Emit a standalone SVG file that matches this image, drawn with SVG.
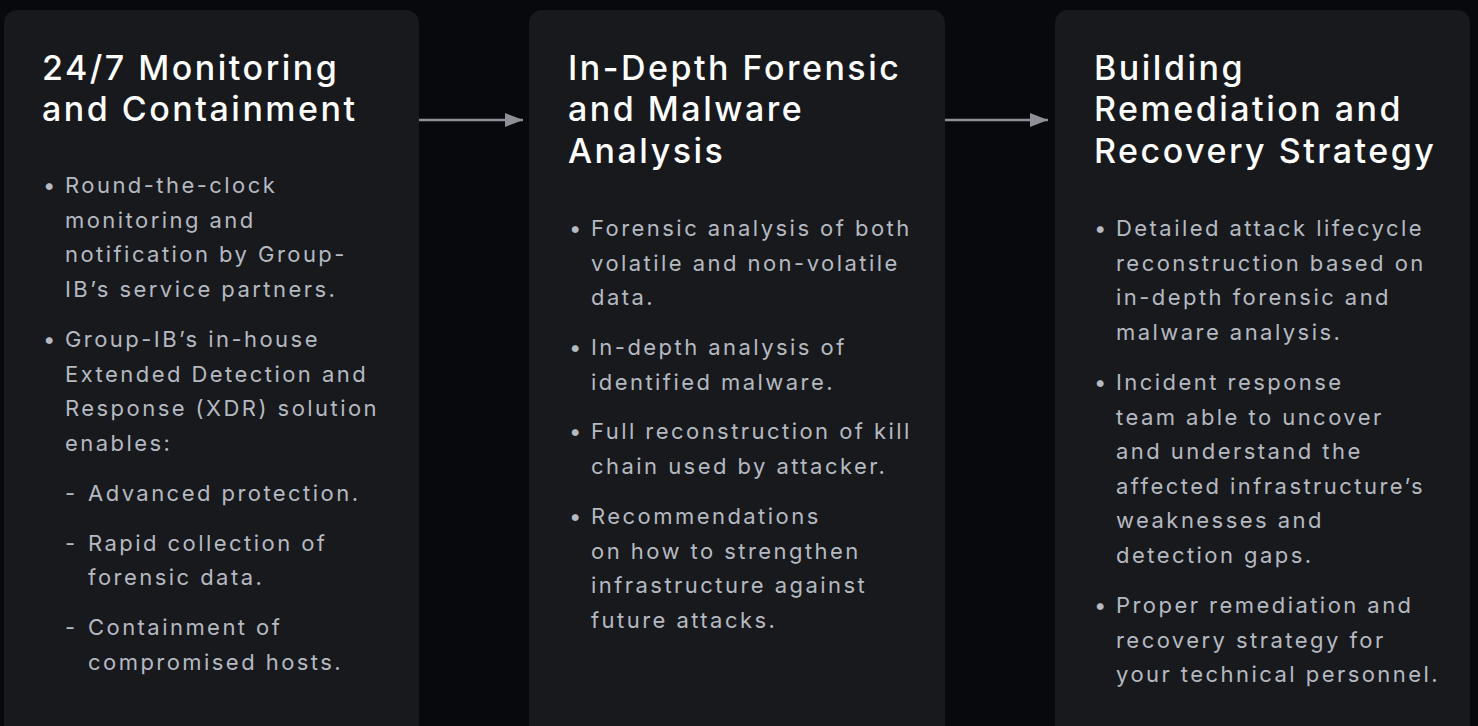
<svg xmlns="http://www.w3.org/2000/svg" width="1478" height="726" viewBox="0 0 1478 726">
<defs>
<style>
.card{fill:#18191d}
.title{font-family:Inter,"Liberation Sans",sans-serif;font-size:34px;font-weight:500;fill:#ffffff;letter-spacing:2.5px}
.body{font-family:Inter,"Liberation Sans",sans-serif;font-size:22px;font-weight:400;fill:#b5b9c1;letter-spacing:2.45px}
.conn{stroke:#8d9096;stroke-width:2.5;fill:none}
</style>
<marker id="ah" markerWidth="18" markerHeight="14" refX="18" refY="7" orient="auto" markerUnits="userSpaceOnUse">
<path d="M0,0 L18,7 L0,14 Z" fill="#8d9096"/>
</marker>
</defs>
<rect width="1478" height="726" fill="#08090c"/>
<g id="node1">
<rect class="card" x="4" y="10" width="415" height="740" rx="13"/>
<text class="title"><tspan x="42" y="80">24/7 Monitoring</tspan><tspan x="42" y="121">and Containment</tspan></text>
<text class="body">
<tspan x="43" y="193">•</tspan><tspan x="65" y="193">Round-the-clock</tspan>
<tspan x="65" y="228">monitoring and</tspan>
<tspan x="65" y="262">notification by Group-</tspan>
<tspan x="65" y="297">IB’s service partners.</tspan>
<tspan x="43" y="347">•</tspan><tspan x="65" y="347">Group-IB’s in-house</tspan>
<tspan x="65" y="382">Extended Detection and</tspan>
<tspan x="65" y="416">Response (XDR) solution</tspan>
<tspan x="65" y="451">enables:</tspan>
<tspan x="65" y="501">-</tspan><tspan x="88" y="501">Advanced protection.</tspan>
<tspan x="65" y="551">-</tspan><tspan x="88" y="551">Rapid collection of</tspan>
<tspan x="88" y="585">forensic data.</tspan>
<tspan x="65" y="635">-</tspan><tspan x="88" y="635">Containment of</tspan>
<tspan x="88" y="670">compromised hosts.</tspan>
</text>
</g>
<g id="node2">
<rect class="card" x="529" y="10" width="416" height="740" rx="13"/>
<text class="title"><tspan x="568" y="80">In-Depth Forensic</tspan><tspan x="568" y="121">and Malware</tspan><tspan x="568" y="163">Analysis</tspan></text>
<text class="body">
<tspan x="569" y="236">•</tspan><tspan x="591" y="236">Forensic analysis of both</tspan>
<tspan x="591" y="271">volatile and non-volatile</tspan>
<tspan x="591" y="305">data.</tspan>
<tspan x="569" y="355">•</tspan><tspan x="591" y="355">In-depth analysis of</tspan>
<tspan x="591" y="390">identified malware.</tspan>
<tspan x="569" y="439">•</tspan><tspan x="591" y="439">Full reconstruction of kill</tspan>
<tspan x="591" y="474">chain used by attacker.</tspan>
<tspan x="569" y="524">•</tspan><tspan x="591" y="524">Recommendations</tspan>
<tspan x="591" y="559">on how to strengthen</tspan>
<tspan x="591" y="593">infrastructure against</tspan>
<tspan x="591" y="628">future attacks.</tspan>
</text>
</g>
<g id="node3">
<rect class="card" x="1055" y="10" width="415" height="740" rx="13"/>
<text class="title"><tspan x="1094" y="80">Building</tspan><tspan x="1094" y="121">Remediation and</tspan><tspan x="1094" y="163">Recovery Strategy</tspan></text>
<text class="body">
<tspan x="1094" y="236">•</tspan><tspan x="1116" y="236">Detailed attack lifecycle</tspan>
<tspan x="1116" y="271">reconstruction based on</tspan>
<tspan x="1116" y="305">in-depth forensic and</tspan>
<tspan x="1116" y="340">malware analysis.</tspan>
<tspan x="1094" y="390">•</tspan><tspan x="1116" y="390">Incident response</tspan>
<tspan x="1116" y="425">team able to uncover</tspan>
<tspan x="1116" y="459">and understand the</tspan>
<tspan x="1116" y="494">affected infrastructure’s</tspan>
<tspan x="1116" y="528">weaknesses and</tspan>
<tspan x="1116" y="563">detection gaps.</tspan>
<tspan x="1094" y="613">•</tspan><tspan x="1116" y="613">Proper remediation and</tspan>
<tspan x="1116" y="648">recovery strategy for</tspan>
<tspan x="1116" y="682">your technical personnel.</tspan>
</text>
</g>
<g id="connectors">
<line class="conn" x1="419" y1="120" x2="523" y2="120" marker-end="url(#ah)"/>
<line class="conn" x1="945" y1="120" x2="1048" y2="120" marker-end="url(#ah)"/>
</g>
</svg>
